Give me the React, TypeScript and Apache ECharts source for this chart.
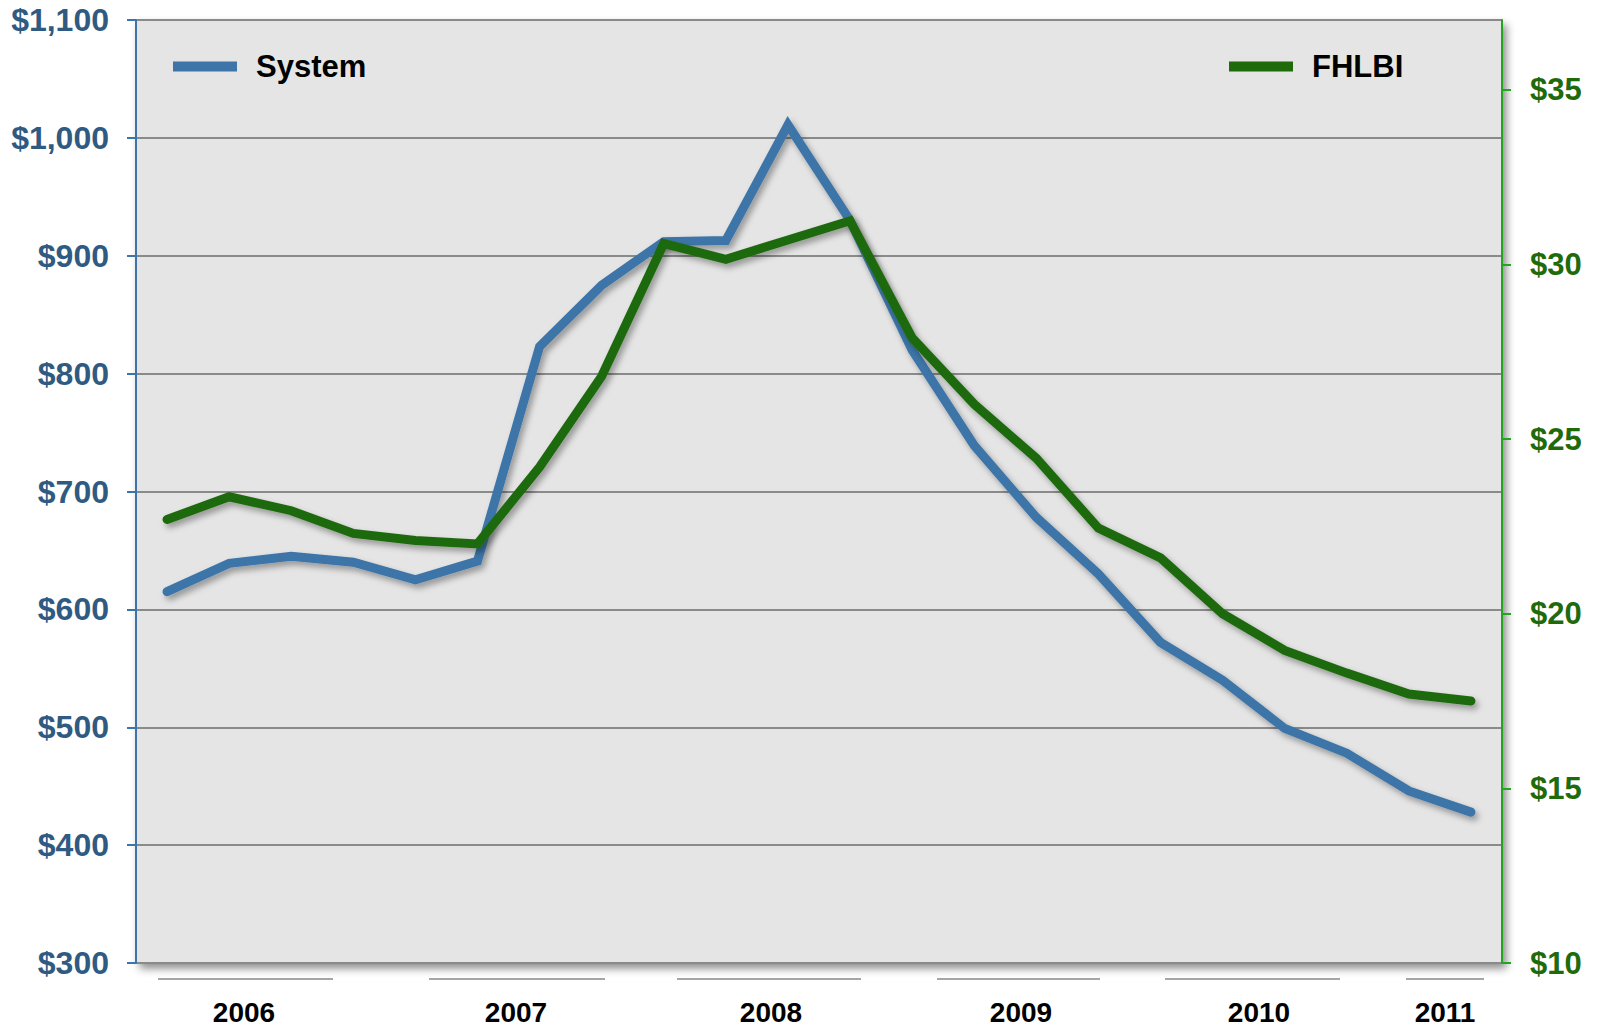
import React, { useEffect, useRef } from "react";
import * as echarts from "echarts";

const quarters = [
  "2006Q1", "2006Q2", "2006Q3", "2006Q4",
  "2007Q1", "2007Q2", "2007Q3", "2007Q4",
  "2008Q1", "2008Q2", "2008Q3", "2008Q4",
  "2009Q1", "2009Q2", "2009Q3", "2009Q4",
  "2010Q1", "2010Q2", "2010Q3", "2010Q4",
  "2011Q1", "2011Q2",
];

const systemValues = [
  615, 639, 645, 640, 625, 641, 823, 875, 912, 913, 1011, 930,
  820, 739, 678, 630, 572, 540, 499, 478, 446, 428,
];

const fhlbiValues = [
  22.7, 23.35, 22.95, 22.3, 22.1, 22.0, 24.2, 26.8, 30.6, 30.15, 30.7, 31.25,
  27.9, 26.0, 24.45, 22.45, 21.6, 20.0, 18.95, 18.3, 17.7, 17.5,
];

const leftTicks = { min: 300, max: 1100, interval: 100 };
const rightTicks = { min: 10, max: 37, interval: 5 };

const yearLabels = ["2006", "2007", "2008", "2009", "2010", "2011"];
// layout only: [lineStart, lineEnd, labelCenter] in px
const yearLayout = [
  [158, 333, 244],
  [429, 605, 516],
  [677, 861, 771],
  [937, 1100, 1021],
  [1165, 1340, 1259],
  [1406, 1484, 1445],
];

const BLUE = "#3e75a8";
const GREEN = "#1f6b0c";
const LEFT_LABEL = "#2f5b82";
const RIGHT_LABEL = "#1f6b0c";
const FONT = "'Liberation Sans', Arial, Helvetica, sans-serif";

function fmtMoney(v: number) {
  return "$" + v.toLocaleString("en-US");
}

export default function App() {
  const ref = useRef<HTMLDivElement>(null);

  useEffect(() => {
    if (!ref.current) return;
    const chart = echarts.init(ref.current, undefined, { renderer: "svg" });

    const graphics: any[] = [];
    yearLabels.forEach((y, i) => {
      const [x1, x2, cx] = yearLayout[i];
      graphics.push({
        type: "line",
        shape: { x1, y1: 979, x2, y2: 979 },
        style: { stroke: "#a6a6a6", lineWidth: 2 },
      });
      graphics.push({
        type: "text",
        x: cx,
        y: 1012,
        style: {
          text: y,
          fill: "#000",
          font: `bold 28px ${FONT}`,
          textAlign: "center",
          textVerticalAlign: "middle",
        },
      });
    });

    const legendText = {
      fontSize: 31,
      fontWeight: "bold",
      color: "#000",
      padding: [0, 0, 0, 14],
      fontFamily: FONT,
    };

    chart.setOption({
      animation: false,
      backgroundColor: "#ffffff",
      textStyle: { fontFamily: FONT },
      grid: {
        left: 136,
        right: 95,
        top: 20,
        bottom: 65,
        show: true,
        backgroundColor: "#e5e5e5",
        borderColor: "#a0a0a0",
        borderWidth: 1,
        shadowColor: "rgba(0,0,0,0.45)",
        shadowBlur: 8,
        shadowOffsetX: 4,
        shadowOffsetY: 5,
      },
      legend: [
        {
          data: ["System"],
          left: 168,
          top: 46,
          icon: "rect",
          itemWidth: 64,
          itemHeight: 10,
          textStyle: legendText,
          selectedMode: false,
        },
        {
          data: ["FHLBI"],
          left: 1224,
          top: 46,
          icon: "rect",
          itemWidth: 64,
          itemHeight: 10,
          textStyle: legendText,
          selectedMode: false,
        },
      ],
      xAxis: {
        type: "category",
        data: quarters,
        boundaryGap: true,
        axisLine: { show: false },
        axisTick: { show: false },
        axisLabel: { show: false },
        splitLine: { show: false },
      },
      yAxis: [
        {
          type: "value",
          position: "left",
          min: leftTicks.min,
          max: leftTicks.max,
          interval: leftTicks.interval,
          axisLine: { show: true, lineStyle: { color: BLUE, width: 2 } },
          axisTick: { show: true, length: 9, lineStyle: { color: BLUE, width: 2 } },
          axisLabel: {
            formatter: (v: number) => fmtMoney(v),
            color: LEFT_LABEL,
            fontSize: 32,
            fontWeight: "bold",
            margin: 27,
            fontFamily: FONT,
          },
          splitLine: { show: true, lineStyle: { color: "#8a8a8a", width: 2 } },
        },
        {
          type: "value",
          position: "right",
          min: rightTicks.min,
          max: rightTicks.max,
          interval: rightTicks.interval,
          axisLine: { show: true, lineStyle: { color: "#22a51f", width: 2 } },
          axisTick: { show: true, length: 9, lineStyle: { color: "#22a51f", width: 2 } },
          axisLabel: {
            formatter: (v: number) => fmtMoney(v),
            showMaxLabel: false,
            color: RIGHT_LABEL,
            fontSize: 31,
            fontWeight: "bold",
            margin: 28,
            fontFamily: FONT,
          },
          splitLine: { show: false },
        },
      ],
      series: [
        {
          name: "System",
          type: "line",
          yAxisIndex: 0,
          data: systemValues,
          symbol: "none",
          color: BLUE,
          lineStyle: {
            color: BLUE,
            width: 9,
            cap: "round",
            join: "miter",
            shadowColor: "rgba(0,0,0,0.35)",
            shadowBlur: 6,
            shadowOffsetX: 3,
            shadowOffsetY: 4,
          },
          z: 2,
        },
        {
          name: "FHLBI",
          type: "line",
          yAxisIndex: 1,
          data: fhlbiValues,
          symbol: "none",
          color: GREEN,
          lineStyle: {
            color: GREEN,
            width: 9,
            cap: "round",
            join: "miter",
            shadowColor: "rgba(0,0,0,0.35)",
            shadowBlur: 6,
            shadowOffsetX: 3,
            shadowOffsetY: 4,
          },
          z: 3,
        },
      ],
      graphic: graphics,
    });

    return () => chart.dispose();
  }, []);

  return (
    <div
      ref={ref}
      style={{ width: 1597, height: 1028, position: "absolute", left: 0, top: 0 }}
    />
  );
}
